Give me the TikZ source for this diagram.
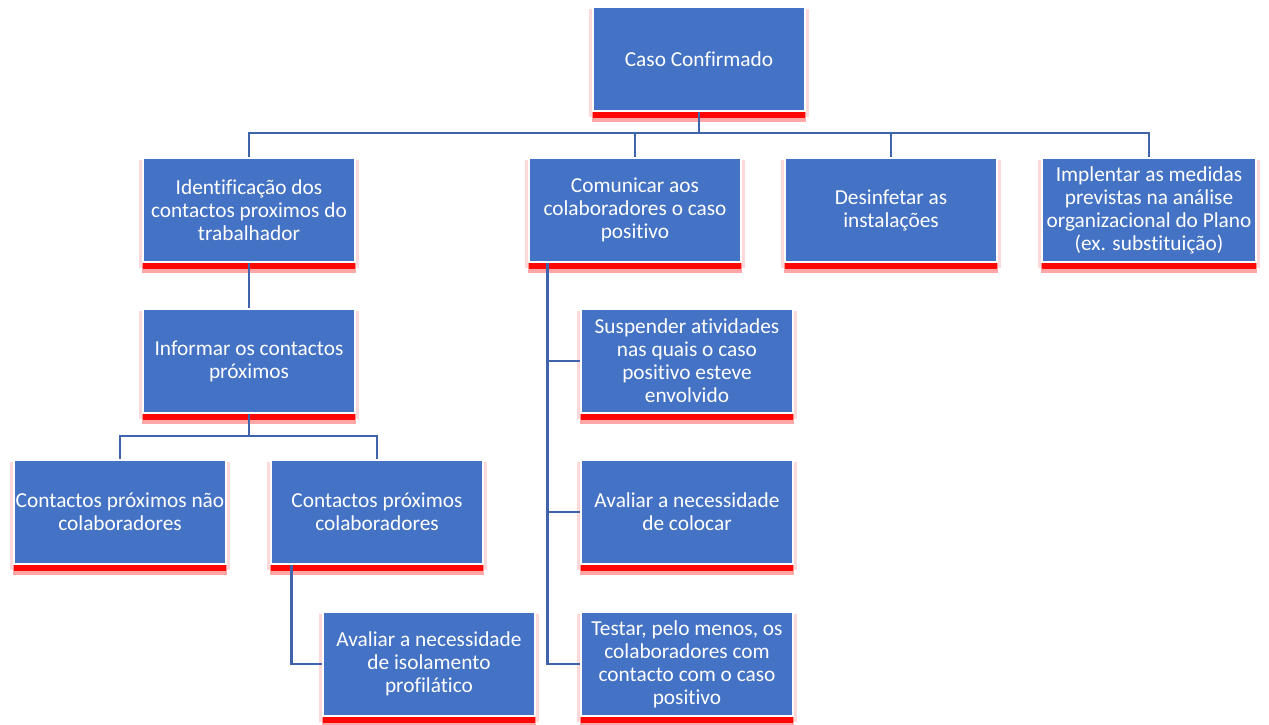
\documentclass[tikz,border=0pt]{standalone}
\usepackage{fontspec}
\setmainfont{Carlito}[Ligatures={NoCommon}]
\usetikzlibrary{shadows,calc}
\definecolor{boxblue}{HTML}{4472C4}
\definecolor{lineblue}{HTML}{3F64AC}
\tikzset{
  orgbox/.style={
    general shadow={fill=red, opacity=0.15, shadow xshift=0pt, shadow yshift=-3pt, shadow scale=1.04},
    general shadow={fill=red, opacity=0.35, shadow xshift=0pt, shadow yshift=-7.5pt, shadow scale=1.01},
    general shadow={fill=red, opacity=0.95, shadow xshift=0pt, shadow yshift=-5.5pt},
    fill=boxblue, draw=white, line width=1.6pt,
    minimum width=159pt, minimum height=78pt, inner sep=0pt,
    align=center, text=white,
    font=\fontsize{16pt}{17.25pt}\selectfont},
  conn/.style={draw=lineblue, line width=2.2pt}
}
\begin{document}
\begin{tikzpicture}[x=0.75pt,y=-0.75pt]
\useasboundingbox (0,0) rectangle (1269,724);
\fill[white] (0,0) rectangle (1269,724);
\node[orgbox] (caso) at (699,59) {Caso Confirmado};
\node[orgbox] (id) at (249,210) {Identificação dos\\contactos proximos do\\trabalhador};
\node[orgbox] (com) at (635,210) {Comunicar aos\\colaboradores o caso\\positivo};
\node[orgbox] (des) at (891,210) {Desinfetar as\\instalações};
\node[orgbox, minimum width=160.5pt] (imp) at (1149,210) {Implentar as medidas\\previstas na análise\\organizacional do Plano\\(ex. substituição)};
\node[orgbox] (inf) at (249,361) {Informar os contactos\\próximos};
\node[orgbox] (cnc) at (120,512) {Contactos próximos não\\colaboradores};
\node[orgbox] (cc) at (377,512) {Contactos próximos\\colaboradores};
\node[orgbox] (avi) at (429,664) {Avaliar a necessidade\\de isolamento\\profilático};
\node[orgbox] (sus) at (687,361) {Suspender atividades\\nas quais o caso\\positivo esteve\\envolvido};
\node[orgbox] (avc) at (687,512) {Avaliar a necessidade\\de colocar};
\node[orgbox] (tes) at (687,664) {Testar, pelo menos, os\\colaboradores com\\contacto com o caso\\positivo};
% connectors
\coordinate (b1) at (0,133);
\coordinate (b2) at (0,436);
\draw[conn] (caso.south) -- (caso.south |- b1);
\draw[conn] (id.north) -- (id.north |- b1) -- (imp.north |- b1) -- (imp.north);
\draw[conn] (com.north) -- (com.north |- b1);
\draw[conn] (des.north) -- (des.north |- b1);
\draw[conn] (id.south) -- (inf.north);
\draw[conn] (inf.south) -- (inf.south |- b2);
\draw[conn] (cnc.north) -- (cnc.north |- b2) -- (cc.north |- b2) -- (cc.north);
\coordinate (cv) at ([xshift=15pt]com.south west);
\draw[conn] (cv) |- (tes.west);
\draw[conn] (sus.west) -- (sus.west -| cv);
\draw[conn] (avc.west) -- (avc.west -| cv);
\coordinate (cw) at ([xshift=16.5pt]cc.south west);
\draw[conn] (cw) |- (avi.west);
\end{tikzpicture}
\end{document}
